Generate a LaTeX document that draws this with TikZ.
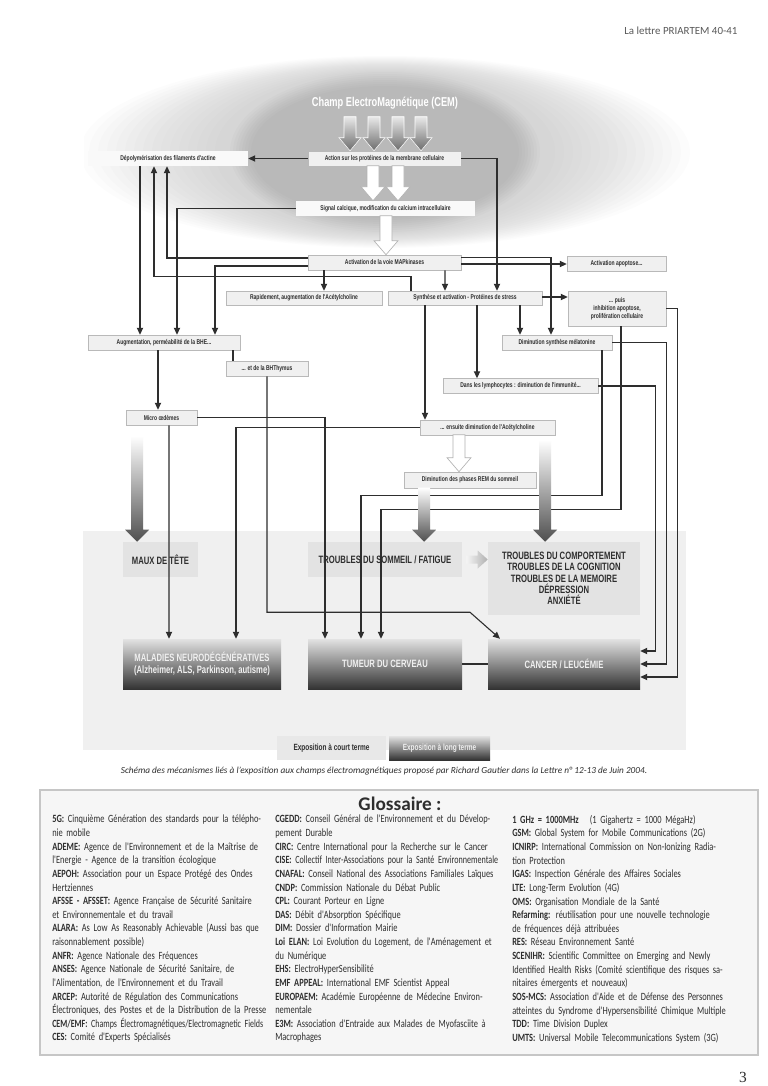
\documentclass[tikz,border=0pt]{standalone}
\usepackage{fontspec}
\setmainfont{Carlito}
\newfontfamily\cellfont[FakeStretch=0.72]{Liberation Sans}
\newfontfamily\glossfont[FakeStretch=0.76]{Carlito}
\newfontfamily\pagefont{Liberation Serif}
\usetikzlibrary{arrows.meta,calc}
\definecolor{ink}{HTML}{2E2E2E}

\newcommand\pxu{0.27344mm}
\newcommand\jl[1]{\makebox[\hsize][s]{#1}}
\newcommand\fl[1]{\resizebox{\hsize}{\height}{#1}}
% shaded arrow: tip, length, bottom colour
\newcommand\gradarrow[3]{%
  \shade[top color=white, bottom color=#3]
    ($(#1)+(-6,-#2)$) -- ($(#1)+(6,-#2)$) -- ($(#1)+(6,-12)$) -- ($(#1)+(12,-12)$)
    -- (#1) -- ($(#1)+(-12,-12)$) -- ($(#1)+(-6,-12)$) -- cycle;}
\newcommand\cemarrow[1]{%
  \shade[draw=white, line width=0.4pt, top color=gray!18, bottom color=gray!85!black]
    ($(#1)+(-6,-34)$) -- ($(#1)+(6,-34)$) -- ($(#1)+(6,-13)$) -- ($(#1)+(11,-13)$)
    -- (#1) -- ($(#1)+(-11,-13)$) -- ($(#1)+(-6,-13)$) -- cycle;}
\newcommand\hollowarrow[2]{%
  \draw[gray!60, fill=white, line width=0.5pt]
    ($(#1)+(-6,-#2)$) -- ($(#1)+(6,-#2)$) -- ($(#1)+(6,-14)$) -- ($(#1)+(12,-14)$)
    -- (#1) -- ($(#1)+(-12,-14)$) -- ($(#1)+(-6,-14)$) -- cycle;}

\tikzset{
  cell/.style={draw=gray!55, fill=gray!12, text=ink, inner sep=1pt, minimum height=15*\pxu,
    font=\cellfont\bfseries\fontsize{5.4}{6.4}\selectfont},
  faint/.style={cell, draw=none, fill=gray!5},
  bigbox/.style={fill=gray!22, text=ink, align=center, inner sep=1pt,
    font=\cellfont\bfseries\fontsize{8.3}{8.8}\selectfont},
  darkbox/.style={bigbox, top color=gray!22, middle color=gray!58, bottom color=black!80, text=white!88!gray},
  link/.style={draw=ink, line width=0.85pt},
  arr/.style={link, -{Triangle[length=1.9mm,width=1.7mm]}},
  gloss/.style={anchor=north west, inner sep=0pt, align=left, text=ink,
    font=\glossfont\fontsize{8.6}{10.6}\selectfont},
}

\begin{document}
\begin{tikzpicture}[x=0.27344mm, y=-0.27344mm]
  \useasboundingbox (0,0) rectangle (768,1086);
  \fill[white] (0,0) rectangle (768,1086);
  \node (hdr) [anchor=base east, text=gray!70!black, font=\fontsize{8.5}{10}\selectfont] at (742,35) {La lettre PRIARTEM 40-41};

  % background of the scheme
  \begin{scope}
    \clip (84,56) rectangle (690,531);
    \foreach \k in {0,...,15}
      \fill[gray, opacity=0.02] (385,152) ellipse ({305-9*\k} and {96-1*\k});
    \foreach \k in {0,...,7}
      \fill[gray, opacity=0.045] (385,152) ellipse ({155-3*\k} and {80-2*\k});
  \end{scope}
  \fill[gray!12] (83,531) rectangle (686,750);
  \node (cem) [text=white, font=\cellfont\bfseries\fontsize{10}{12}\selectfont] at (385,103) {Champ ElectroMagnétique (CEM)};

  % mechanisms
  \node (act) [cell, minimum width=153*\pxu] at (384.5,158.5) {Action sur les protéines de la membrane cellulaire};
  \node (depo) [faint, minimum width=160*\pxu] at (168,158.5) {Dépolymérisation des filaments d'actine};
  \node (sig) [faint, minimum width=179*\pxu] at (385.5,208.5) {Signal calcique, modification du calcium intracellulaire};
  \node (mapk) [cell, minimum width=153*\pxu] at (384.5,262.5) {Activation de la voie MAPkinases};
  \node (apop) [cell, minimum width=99*\pxu] at (616.5,264) {Activation apoptose...};
  \node (rapid) [cell, minimum width=156*\pxu, minimum height=14*\pxu] at (304,298) {Rapidement, augmentation de l'Acétylcholine};
  \node (synth) [cell, minimum width=154*\pxu, minimum height=14*\pxu] at (465,298) {Synthèse et activation - Protéines de stress};
  \node (puis) [cell, align=center, minimum width=98*\pxu, minimum height=35*\pxu] at (617,308.5) {... puis\\inhibition apoptose,\\prolifération cellulaire};
  \node (bhe) [cell, minimum width=152*\pxu] at (164,342.5) {Augmentation, perméabilité de la BHE...};
  \node (mela) [cell, minimum width=110*\pxu] at (557,342.5) {Diminution synthèse mélatonine};
  \node (bhth) [cell, minimum width=82*\pxu] at (267,368.5) {... et de la BHThymus};
  \node (lymph) [cell, minimum width=155*\pxu] at (520.5,386) {Dans les lymphocytes : diminution de l'immunité...};
  \node (oedem) [cell, minimum width=71*\pxu] at (161.5,417.5) {Micro œdèmes};
  \node (ensu) [cell, minimum width=135*\pxu] at (487.5,427.5) {... ensuite diminution de l'Acétylcholine};
  \node (rem) [cell, minimum width=132*\pxu, minimum height=16*\pxu] at (470,480) {Diminution des phases REM du sommeil};

  % effects
  \node (maux) [bigbox, minimum width=75*\pxu, minimum height=35*\pxu] at (160.5,559.5) {MAUX DE TÊTE};
  \node (somm) [bigbox, minimum width=154*\pxu, minimum height=35*\pxu] at (385,559.5) {TROUBLES DU SOMMEIL / FATIGUE};
  \node (comp) [bigbox, minimum width=152*\pxu, minimum height=73*\pxu] at (564,578.5) {TROUBLES DU COMPORTEMENT\\TROUBLES DE LA COGNITION\\TROUBLES DE LA MEMOIRE\\DÉPRESSION\\ANXIÉTÉ};
  \node (neuro) [darkbox, minimum width=158*\pxu, minimum height=50*\pxu] at (202,664) {MALADIES NEURODÉGÉNÉRATIVES\\(Alzheimer, ALS, Parkinson, autisme)};
  \node (tum) [darkbox, minimum width=154*\pxu, minimum height=50*\pxu] at (385,664) {TUMEUR DU CERVEAU};
  \node (canc) [darkbox, minimum width=152*\pxu, minimum height=50*\pxu] at (564,664) {CANCER / LEUCÉMIE};
  \node (court) [bigbox, fill=gray!18, minimum width=109*\pxu, minimum height=24*\pxu, font=\cellfont\bfseries\fontsize{7}{8}\selectfont] at (331.5,748) {Exposition à court terme};
  \node (long) [darkbox, minimum width=101*\pxu, minimum height=24*\pxu, font=\cellfont\bfseries\fontsize{7}{8}\selectfont] at (439.5,748) {Exposition à long terme};

  % connectors
  \draw[arr] (act.west) -- (depo.east);
  \draw[arr] (act.east) -| ($(synth.north)+(32,0)$);
  \draw[arr] (sig.west) -| ($(bhe.north)+(13,0)$);
  \draw[arr] ($(mapk.west)+(0,-4.5)$) -| ($(depo.south)+(-1,0)$);
  \draw[arr] ($(mapk.west)+(0,3.5)$) -| ($(bhe.north)+(51,0)$);
  \draw[arr] ($(mapk.south)+(-60.5,0)$) -- ($(rapid.north)+(20,0)$);
  \draw[arr] ($(mapk.south)+(60.5,0)$) -- ($(synth.north)+(-20,0)$);
  \draw[arr] (mapk.east |- apop.west) -- (apop.west);
  \draw[arr] ($(mapk.east)+(0,-5)$) -| ($(mela.north)+(-6,0)$);
  \draw[arr] ($(synth.east)+(0,-1)$) -- ($(synth.east -| puis.west)+(0,-1)$);
  \draw[arr] ($(synth.south)+(55,0)$) -- ($(mela.north)+(-37,0)$);
  \draw[arr] ($(synth.south)+(12,0)$) -- ($(lymph.north)+(-43.5,0)$);
  \draw[arr] ($(synth.south)+(-40,0)$) -- ($(ensu.north)+(-62.5,0)$);
  \draw[arr] ($(synth.north)+(-54,0)$) -- ++(0,-14) -| ($(depo.south)+(-14,0)$);
  \draw[arr] ($(depo.south)+(-28,0)$) -- ($(bhe.north)+(-24,0)$);
  \draw[arr] ($(bhe.south)+(-6,0)$) -- ($(oedem.north)+(-3.5,0)$);
  \draw[link] ($(bhe.south)+(69,0)$) -- ($(bhth.north)+(-34,0)$);
  \draw[arr] (bhth.south) -- ++(0,236) -- ++(203,0) -- ($(canc.north)+(-64,0)$);
  \draw[arr] (oedem.east) -| ($(tum.north)+(-60,0)$);
  \draw[arr] ($(oedem.south)+(7.5,0)$) -- ($(neuro.north)+(-33,0)$);
  \draw[arr] (ensu.west) -| ($(neuro.north)+(34,0)$);
  \draw[arr] ($(mela.south)+(45,0)$) |- ($(tum.north)+(-24,-143)$) -- ($(tum.north)+(-24,0)$);
  \draw[arr] ($(puis.south)+(4,0)$) |- ($(tum.north)+(-4,-129)$) -- ($(tum.north)+(-4,0)$);
  \draw[arr] (lymph.east) -| ($(canc.east)+(15,-13)$) -- ($(canc.east)+(0,-13)$);
  \draw[arr] (mela.east) -| ($(canc.east)+(26,0)$) -- (canc.east);
  \draw[arr] (puis.east) -| ($(canc.east)+(37,13)$) -- ($(canc.east)+(0,13)$);
  \draw[link] (tum.east) -- (canc.west);

  % broad arrows
  \foreach \dx in {-34.5,-10.5,13.5,36.5} {
    \coordinate (cemtip) at ($(act.north)+(\dx,0)$);
    \cemarrow{cemtip}
  }
  \coordinate (hsig1) at ($(sig.north)+(-12.5,0)$);
  \coordinate (hsig2) at ($(sig.north)+(12.5,0)$);
  \coordinate (hmapk) at ($(mapk.north)+(1.5,0)$);
  \coordinate (hrem) at ($(rem.north)+(-11,0)$);
  \hollowarrow{hsig1}{35}
  \hollowarrow{hsig2}{35}
  \hollowarrow{hmapk}{39}
  \hollowarrow{hrem}{37}
  \coordinate (gmaux) at ($(maux.north)+(-23.5,0)$);
  \coordinate (gsomm) at ($(somm.north)+(39,0)$);
  \coordinate (gcomp) at ($(comp.north)+(-19,0)$);
  \gradarrow{gmaux}{106}{gray!62!black}
  \gradarrow{gsomm}{54}{gray!62!black}
  \gradarrow{gcomp}{102}{gray!62!black}
  \coordinate (htip) at (comp.west |- somm.east);
  \shade[left color=gray!8, right color=gray!62]
    ($(somm.east)+(4,-4)$) -- ($(htip)+(-10,-4)$) -- ($(htip)+(-10,-9)$) -- (htip)
    -- ($(htip)+(-10,9)$) -- ($(htip)+(-10,4)$) -- ($(somm.east)+(4,4)$) -- cycle;

  \node (cap) [text=ink, font=\itshape\fontsize{7.2}{9}\selectfont] at (384,771) {Schéma des mécanismes liés à l'exposition aux champs électromagnétiques proposé par Richard Gautier dans la Lettre n° 12-13 de Juin 2004.};

  % glossary
  \draw[gray!45, fill=gray!7, line width=0.8pt] (40,790) rectangle (758,1055);
  \node (gtitle) [text=ink, font=\bfseries\fontsize{15}{18}\selectfont] at (400,804) {Glossaire :};
  \node (gcol1) [gloss, text width=211*\pxu] at (52,815) {%
    \jl{\textbf{5G:} Cinquième Génération des standards pour la télépho-}\\
    nie mobile\\
    \jl{\textbf{ADEME:} Agence de l'Environnement et de la Maîtrise de}\\
    l'Energie - Agence de la transition écologique\\
    \jl{\textbf{AEPOH:} Association pour un Espace Protégé des Ondes}\\
    Hertziennes\\
    \jl{\textbf{AFSSE - AFSSET:} Agence Française de Sécurité Sanitaire}\\
    et Environnementale et du travail\\
    \jl{\textbf{ALARA:} As Low As Reasonably Achievable (Aussi bas que}\\
    raisonnablement possible)\\
    \textbf{ANFR:} Agence Nationale des Fréquences\\
    \jl{\textbf{ANSES:} Agence Nationale de Sécurité Sanitaire, de}\\
    l'Alimentation, de l'Environnement et du Travail\\
    \jl{\textbf{ARCEP:} Autorité de Régulation des Communications}\\
    \jl{Électroniques, des Postes et de la Distribution de la Presse}\\
    \fl{\textbf{CEM/EMF:} Champs Électromagnétiques/Electromagnetic Fields}\\
    \textbf{CES:} Comité d'Experts Spécialisés};
  \node (gcol2) [gloss, text width=223*\pxu] at (275,815) {%
    \jl{\textbf{CGEDD:} Conseil Général de l'Environnement et du Dévelop-}\\
    pement Durable\\
    \jl{\textbf{CIRC:} Centre International pour la Recherche sur le Cancer}\\
    \fl{\textbf{CISE:} Collectif Inter-Associations pour la Santé Environnementale}\\
    \jl{\textbf{CNAFAL:} Conseil National des Associations Familiales Laïques}\\
    \textbf{CNDP:} Commission Nationale du Débat Public\\
    \textbf{CPL:} Courant Porteur en Ligne\\
    \textbf{DAS:} Débit d'Absorption Spécifique\\
    \textbf{DIM:} Dossier d'Information Mairie\\
    \jl{\textbf{Loi ELAN:} Loi Evolution du Logement, de l'Aménagement et}\\
    du Numérique\\
    \textbf{EHS:} ElectroHyperSensibilité\\
    \textbf{EMF APPEAL:} International EMF Scientist Appeal\\
    \jl{\textbf{EUROPAEM:} Académie Européenne de Médecine Environ-}\\
    nementale\\
    \jl{\textbf{E3M:} Association d'Entraide aux Malades de Myofasciite à}\\
    Macrophages};
  \node (gcol3) [gloss, text width=236*\pxu] at (512,815) {%
    \textbf{1 GHz = 1000MHz}\quad (1 Gigahertz = 1000 MégaHz)\\
    \textbf{GSM:} Global System for Mobile Communications (2G)\\
    \jl{\textbf{ICNIRP:} International Commission on Non-Ionizing Radia-}\\
    tion Protection\\
    \textbf{IGAS:} Inspection Générale des Affaires Sociales\\
    \textbf{LTE:} Long-Term Evolution (4G)\\
    \textbf{OMS:} Organisation Mondiale de la Santé\\
    \jl{\textbf{Refarming:} réutilisation pour une nouvelle technologie}\\
    de fréquences déjà attribuées\\
    \textbf{RES:} Réseau Environnement Santé\\
    \jl{\textbf{SCENIHR:} Scientific Committee on Emerging and Newly}\\
    \jl{Identified Health Risks (Comité scientifique des risques sa-}\\
    nitaires émergents et nouveaux)\\
    \jl{\textbf{SOS-MCS:} Association d'Aide et de Défense des Personnes}\\
    \jl{atteintes du Syndrome d'Hypersensibilité Chimique Multiple}\\
    \textbf{TDD:} Time Division Duplex\\
    \textbf{UMTS:} Universal Mobile Telecommunications System (3G)};
  \node (pagenum) [text=ink, font=\pagefont\fontsize{12}{14}\selectfont] at (743,1077) {3};
\end{tikzpicture}
\end{document}
